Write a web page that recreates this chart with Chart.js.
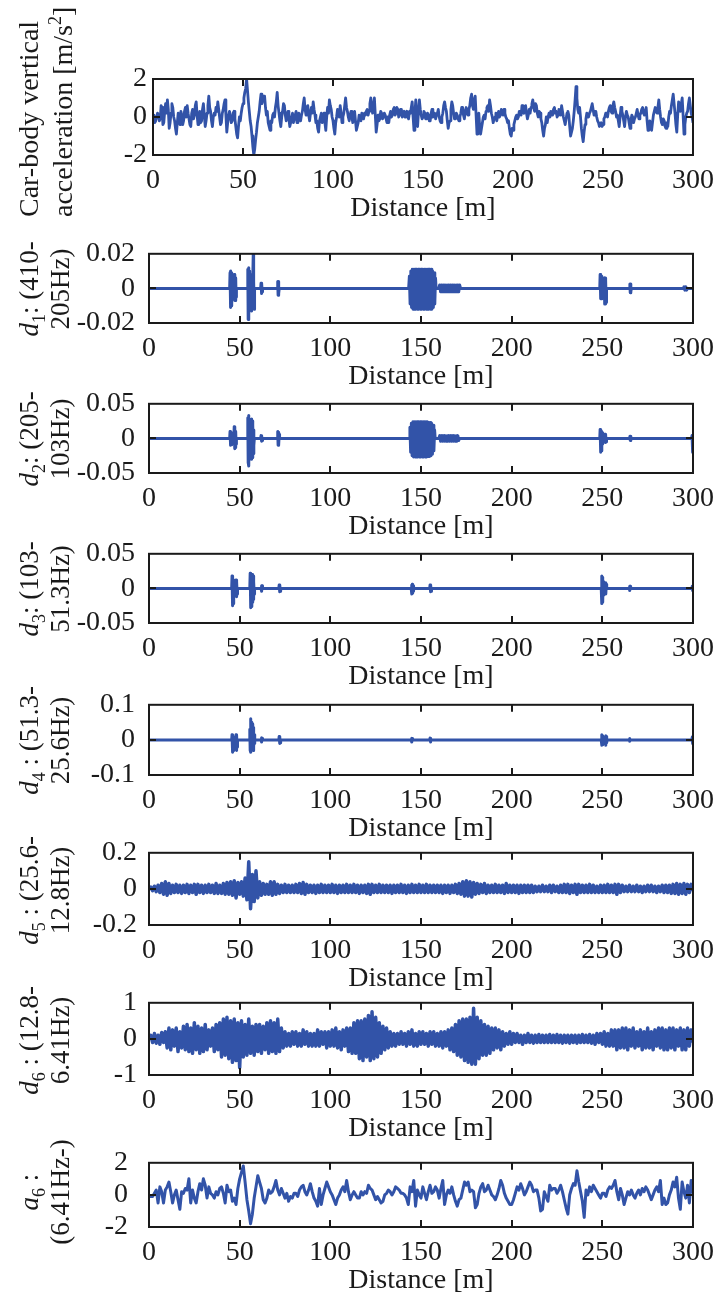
<!DOCTYPE html>
<html>
<head>
<meta charset="utf-8">
<script src="https://cdn.jsdelivr.net/npm/chart.js@4.4.1/dist/chart.umd.min.js"></script>
<style>
  body { margin: 0; background: #fff; width: 723px; height: 1292px; position: relative; overflow: hidden; }
  canvas { position: absolute; left: 0; }
</style>
</head>
<body>
<script>
// x axis
const distanceTicks = [0, 50, 100, 150, 200, 250, 300];
const accelStep = 0.5; // m between samples of the acceleration record
const bandStep = 1;    // m between samples of d5, d6, a6

// car-body vertical acceleration [m/s2], one value every 0.5 m (20 per row = 10 m)
const accel = [
  0.0,0.1,-0.3,-0.2,0.0,0.2,0.1,-0.2,-0.1,0.6,0.5,-0.4,-0.3,0.3,0.7,0.2,0.9,0.4,-0.6,-0.3,
  0.2,0.7,0.5,0.0,-0.2,-0.6,-0.9,-0.3,0.2,-0.1,-0.4,0.3,0.1,-0.4,-0.2,0.3,0.5,0.0,0.6,0.2,
  -0.1,-0.4,-0.5,0.2,0.4,-0.1,0.1,0.6,0.8,0.1,-0.4,0.0,0.3,-0.3,-0.2,0.4,0.7,0.1,-0.5,-0.2,
  0.2,0.6,1.1,0.5,0.3,-0.2,-0.5,0.0,0.2,0.1,0.5,0.3,0.8,0.4,0.0,-0.4,-0.3,0.2,0.4,0.7,
  0.9,0.1,-0.8,-0.3,0.1,0.3,0.0,-0.3,-0.2,0.2,0.3,-0.1,-0.5,-0.9,-1.1,-0.5,0.0,-0.2,0.2,0.5,
  0.7,1.0,1.3,1.5,2.0,1.4,0.8,0.3,-0.2,-0.5,-1.0,-1.6,-2.0,-1.7,-1.2,-0.8,-0.3,0.0,0.3,0.8,
  1.2,0.7,0.9,1.1,1.1,0.5,0.1,0.3,-0.3,-0.5,-0.7,-0.2,-0.3,0.1,0.2,0.0,0.5,0.8,1.3,0.6,
  0.2,-0.2,-0.5,0.0,0.3,0.7,0.6,0.1,-0.2,0.1,0.3,-0.1,-0.5,-0.3,0.0,0.2,-0.3,-0.1,0.1,0.3,
  -0.3,0.0,0.2,-0.1,-0.2,0.1,0.3,0.7,1.0,0.4,0.1,0.5,0.6,0.1,-0.2,0.2,0.5,0.2,0.8,0.4,
  0.1,-0.3,-0.2,-0.6,-0.8,-0.2,0.0,0.2,-0.3,-0.1,0.2,-0.3,-0.7,0.0,0.5,0.2,0.9,0.6,0.4,0.0,
  -0.2,-0.6,-0.9,-0.3,0.0,0.4,0.3,0.0,0.6,0.2,-0.3,0.0,0.2,0.6,1.0,0.5,0.3,0.0,-0.2,0.1,
  0.3,0.0,-0.3,0.1,0.3,-0.2,-0.7,-0.5,-0.3,0.1,0.0,-0.2,0.2,0.0,-0.1,0.2,0.1,0.3,0.4,0.1,
  0.3,0.7,1.0,0.5,0.2,0.6,1.0,0.1,-0.8,-0.4,0.1,-0.2,-0.1,0.3,0.2,-0.1,0.0,0.2,0.1,-0.1,
  -0.3,0.0,-0.3,0.1,0.3,0.0,0.1,0.4,0.5,0.1,0.2,0.5,0.4,0.0,0.1,0.4,0.4,0.0,0.2,0.3,
  0.0,0.2,0.3,0.0,-0.1,0.3,0.2,0.5,0.8,0.0,-0.7,0.2,0.9,0.1,-0.5,0.3,0.9,0.4,0.1,-0.1,
  0.0,0.3,0.2,-0.1,-0.1,0.2,0.1,-0.2,-0.2,0.2,0.4,0.0,0.1,0.2,-0.1,0.1,0.2,0.4,0.0,-0.2,
  -0.3,0.0,0.2,0.6,0.8,0.5,0.3,-0.2,-0.6,-0.3,-0.2,0.4,0.8,0.6,0.2,-0.1,-0.1,0.2,0.1,-0.1,
  -0.2,0.0,0.2,0.5,0.5,0.1,-0.1,0.3,0.5,0.2,0.1,0.4,0.6,1.0,1.2,0.6,0.4,0.9,1.1,0.1,
  -0.9,-0.4,0.2,-0.5,-0.9,-0.6,-0.3,0.0,0.1,-0.1,0.3,0.5,0.6,0.3,0.9,0.6,0.2,0.0,-0.3,-0.1,
  0.0,0.2,-0.2,0.1,0.3,0.0,0.1,0.4,0.3,0.1,0.4,0.2,0.0,-0.1,-0.3,-0.2,-0.6,-0.9,-1.0,-0.6,
  -0.7,-0.4,-0.2,0.0,0.1,-0.1,0.0,0.3,0.3,0.1,0.6,0.3,0.2,0.5,0.6,0.2,-0.1,0.1,0.4,0.2,
  0.5,0.7,0.9,0.5,0.3,0.7,0.6,0.2,0.0,0.3,0.2,-0.1,-0.3,-0.7,-1.0,-0.6,-0.4,0.0,-0.3,0.0,
  0.2,0.0,0.3,0.1,0.1,0.4,0.5,0.2,0.3,0.0,0.1,0.4,0.3,0.1,0.6,0.3,0.0,-0.2,-0.4,-0.1,
  0.2,0.3,0.1,-0.5,-1.0,-0.8,-0.6,-0.2,0.3,0.9,1.6,1.0,0.4,0.2,0.5,0.0,-0.6,-1.0,-1.3,-0.8,
  -0.4,-0.1,0.2,0.0,0.0,0.2,0.3,0.5,0.7,0.4,0.1,0.3,0.3,0.0,-0.2,-0.3,-0.5,-0.4,-0.3,-0.5,
  -0.4,-0.1,0.0,0.2,0.2,0.0,0.3,0.5,0.6,0.3,0.2,0.6,0.8,0.5,0.3,0.0,0.1,-0.2,-0.5,0.0,
  0.5,0.3,0.1,-0.2,-0.5,0.0,0.3,0.1,0.0,-0.3,-0.6,-0.2,0.1,0.0,-0.3,-0.1,0.0,0.2,0.4,0.1,
  -0.1,0.1,0.2,0.4,0.5,0.2,0.1,0.3,0.5,-0.2,-0.7,-0.4,-0.2,-0.5,-0.7,-0.3,0.1,0.3,0.5,0.3,
  0.2,0.5,0.9,0.4,0.0,-0.3,-0.4,-0.1,-0.2,-0.5,-0.6,-0.3,-0.5,0.0,0.3,0.2,0.6,0.9,1.2,0.7,
  0.2,-0.4,-0.8,0.1,0.8,0.6,0.3,0.7,1.0,0.1,-0.9,-0.4,0.0,0.2,0.3,0.7,1.0,0.6,0.2,0.0,
  -0.3
];

// detail d1 (410-205Hz) as [distance, value] pairs
const d1Pts = [
  [0,0],[44.5,0],
  [44.7,0.009],[44.9,-0.011],[45.1,0.010],[45.3,-0.010],[45.5,0.009],[45.7,-0.009],[45.9,0.007],[46.1,-0.004],[46.3,0],
  [46.8,0],[47.0,0.008],[47.2,-0.007],[47.4,0.008],[47.6,-0.007],[47.8,0.006],[48.0,-0.005],[48.2,0],
  [54.3,0],[54.5,0.011],[54.7,-0.018],[54.9,0.012],[55.1,-0.016],[55.3,0.010],[55.5,-0.012],[55.7,0.006],[55.9,-0.006],
  [56.1,0.006],[56.3,-0.010],[56.5,0.008],[56.7,-0.013],[56.9,0.006],[57.1,-0.012],[57.3,0.004],[57.5,0.020],[57.6,-0.008],
  [57.8,0.004],[58.0,-0.012],[58.2,0],
  [61.6,0],[61.8,0.003],[62.0,-0.003],[62.2,0.003],[62.4,-0.002],[62.6,0],
  [70.8,0],[71.0,0.004],[71.2,-0.004],[71.4,0.004],[71.6,-0.003],[71.8,0],
  [143.2,0],[143.6,0.007],[144.0,-0.009],[144.4,0.010],[144.8,-0.011],[145.2,0.011],[145.6,-0.012],[146.0,0.011],
  [146.4,-0.012],[146.8,0.011],[147.2,-0.012],[147.6,0.011],[148.0,-0.012],[148.4,0.011],[148.8,-0.012],[149.2,0.011],
  [149.6,-0.012],[150.0,0.011],[150.4,-0.012],[150.8,0.011],[151.2,-0.012],[151.6,0.011],[152.0,-0.012],[152.4,0.011],
  [152.8,-0.012],[153.2,0.011],[153.6,-0.012],[154.0,0.011],[154.4,-0.012],[154.8,0.011],[155.2,-0.012],[155.6,0.011],
  [156.0,-0.012],[156.4,0.010],[156.8,-0.011],[157.2,0.009],[157.6,-0.009],[158.0,0.006],[158.3,0],
  [159.8,0],[160.3,0.002],[160.8,-0.002],[161.3,0.002],[161.8,-0.002],[162.3,0.002],[162.8,-0.002],[163.3,0.002],
  [163.8,-0.002],[164.3,0.002],[164.8,-0.002],[165.3,0.002],[165.8,-0.002],[166.3,0.002],[166.8,-0.002],[167.3,0.002],
  [167.8,-0.002],[168.3,0.002],[168.8,-0.002],[169.3,0.002],[169.8,-0.002],[170.3,0.002],[170.8,-0.002],[171.3,0.002],[171.8,0],
  [248.6,0],[248.8,0.008],[249.0,-0.006],[249.2,0.008],[249.4,-0.006],[249.6,0.007],[249.8,-0.005],[250.0,0],
  [250.9,0],[251.1,0.006],[251.3,-0.009],[251.5,0.006],[251.7,-0.009],[251.9,0.005],[252.1,-0.008],[252.3,0],
  [265.0,0],[265.2,0.0025],[265.4,-0.0025],[265.6,0.0025],[265.8,-0.002],[266.0,0],
  [294.5,0],[295.0,0.001],[295.5,-0.001],[296.0,0.001],[296.5,-0.001],[297.0,0],[300,0]
];

// detail d2 (205-103Hz)
const d2Pts = [
  [0,0],[44.5,0],
  [44.7,0.010],[44.9,-0.010],[45.1,0.009],[45.3,-0.009],[45.5,0.008],[45.7,-0.007],[45.9,0.005],[46.1,0],
  [46.8,0],[47.0,0.017],[47.2,-0.015],[47.4,0.014],[47.6,-0.013],[47.8,0.010],[48.0,-0.008],[48.2,0],
  [54.3,0],[54.5,0.030],[54.7,-0.035],[54.9,0.033],[55.1,-0.040],[55.3,0.028],[55.5,-0.030],[55.7,0.015],[55.9,-0.012],
  [56.1,0.020],[56.3,-0.025],[56.5,0.028],[56.7,-0.030],[56.9,0.025],[57.1,-0.028],[57.3,0.020],[57.5,-0.022],
  [57.7,0.012],[57.9,-0.010],[58.1,0],
  [61.6,0],[61.8,0.004],[62.0,-0.004],[62.2,0.004],[62.4,-0.003],[62.6,0],
  [70.8,0],[71.0,0.010],[71.2,-0.010],[71.4,0.009],[71.6,-0.009],[71.8,0.006],[72.0,0],
  [143.5,0],[143.9,0.016],[144.3,-0.020],[144.7,0.022],[145.1,-0.025],[145.5,0.024],[145.9,-0.027],[146.3,0.024],
  [146.7,-0.027],[147.1,0.024],[147.5,-0.027],[147.9,0.024],[148.3,-0.027],[148.7,0.024],[149.1,-0.027],[149.5,0.024],
  [149.9,-0.027],[150.3,0.024],[150.7,-0.027],[151.1,0.024],[151.5,-0.027],[151.9,0.024],[152.3,-0.027],[152.7,0.024],
  [153.1,-0.027],[153.5,0.024],[153.9,-0.026],[154.3,0.023],[154.7,-0.026],[155.1,0.023],[155.5,-0.025],[155.9,0.022],
  [156.3,-0.023],[156.7,0.019],[157.1,-0.018],[157.5,0.012],[157.8,0],
  [159.8,0],[160.3,0.004],[160.8,-0.004],[161.3,0.004],[161.8,-0.004],[162.3,0.004],[162.8,-0.004],[163.3,0.004],
  [163.8,-0.004],[164.3,0.004],[164.8,-0.004],[165.3,0.004],[165.8,-0.004],[166.3,0.004],[166.8,-0.004],[167.3,0.004],
  [167.8,-0.004],[168.3,0.004],[168.8,-0.004],[169.3,0.004],[169.8,-0.004],[170.3,0.004],[170.8,-0.003],[171.2,0],
  [248.6,0],[248.8,0.013],[249.0,-0.020],[249.2,0.012],[249.4,-0.018],[249.6,0.010],[249.8,-0.012],[250.0,0.008],[250.2,-0.008],[250.4,0],
  [251.3,0],[251.5,0.006],[251.7,-0.006],[251.9,0.005],[252.1,-0.005],[252.3,0],
  [265.0,0],[265.2,0.003],[265.4,-0.003],[265.6,0.003],[265.8,0],
  [299.2,0],[299.5,0.004],[299.8,-0.020],[300,0]
];

// detail d3 (103-51.3Hz)
const d3Pts = [
  [0,0],[45.6,0],[45.8,0.018],[46.0,-0.025],[46.2,0.017],[46.4,-0.022],[46.6,0.012],[46.8,-0.012],[47.0,0],
  [47.8,0],[48.0,0.012],[48.2,-0.012],[48.4,0.010],[48.6,-0.008],[48.8,0],
  [55.6,0],[55.8,0.022],[56.0,-0.028],[56.2,0.020],[56.4,-0.026],[56.6,0.014],[56.8,-0.015],[57.0,0.020],[57.2,-0.020],
  [57.4,0.018],[57.6,-0.016],[57.8,0.010],[58.0,-0.008],[58.2,0],
  [61.8,0],[62.0,0.004],[62.2,-0.004],[62.4,0.004],[62.6,0],
  [71.6,0],[71.8,0.005],[72.0,-0.005],[72.2,0.005],[72.4,-0.004],[72.6,0],
  [144.6,0],[144.8,0.005],[145.0,-0.008],[145.2,0.006],[145.4,-0.007],[145.6,0.004],[145.8,-0.004],[146.0,0],
  [154.8,0],[155.0,0.005],[155.2,-0.005],[155.4,0.005],[155.6,-0.004],[155.8,0],
  [249.4,0],[249.6,0.018],[249.8,-0.022],[250.0,0.016],[250.2,-0.020],[250.4,0.010],[250.6,-0.010],[250.8,0],
  [251.6,0],[251.8,0.008],[252.0,-0.008],[252.2,0.006],[252.4,0],
  [264.8,0],[265.0,0.003],[265.2,-0.003],[265.4,0.003],[265.6,0],
  [299.4,0],[299.6,0.003],[299.8,-0.003],[300,0]
];

// detail d4 (51.3-25.6Hz)
const d4Pts = [
  [0,0],[45.6,0],[45.8,0.015],[46.0,-0.035],[46.2,0.014],[46.4,-0.030],[46.6,0.008],[46.8,-0.010],[47.0,0],
  [47.8,0],[48.0,0.015],[48.2,-0.030],[48.4,0.012],[48.6,-0.020],[48.8,0],
  [55.4,0],[55.6,0.030],[55.8,-0.030],[56.0,0.060],[56.2,-0.035],[56.4,0.050],[56.6,-0.030],[56.8,0.030],[57.0,-0.025],
  [57.2,0.045],[57.4,-0.030],[57.6,0.035],[57.8,-0.020],[58.0,0.015],[58.2,-0.010],[58.4,0],
  [61.8,0],[62.0,0.006],[62.2,-0.006],[62.4,0.005],[62.6,0],
  [71.6,0],[71.8,0.010],[72.0,-0.010],[72.2,0.008],[72.4,-0.008],[72.6,0],
  [144.6,0],[144.8,0.005],[145.0,-0.006],[145.2,0.004],[145.4,0],
  [154.8,0],[155.0,0.005],[155.2,-0.006],[155.4,0.004],[155.6,0],
  [249.4,0],[249.6,0.015],[249.8,-0.015],[250.0,0.012],[250.2,-0.014],[250.4,0.008],[250.6,0],
  [251.6,0],[251.8,0.012],[252.0,-0.015],[252.2,0.010],[252.4,-0.008],[252.6,0],
  [264.8,0],[265.0,0.004],[265.2,-0.004],[265.4,0],
  [299.4,0],[299.6,0.008],[299.8,-0.010],[300,0]
];

// detail d5 (25.6-12.8Hz), one value per metre
const d5 = [
  0.0,0.01,-0.01,0.015,-0.015,0.02,-0.02,0.03,-0.03,0.04,
  -0.035,0.03,-0.025,0.02,-0.02,0.025,-0.02,0.02,-0.025,0.02,
  -0.02,0.025,-0.025,0.02,-0.02,0.025,-0.03,0.025,-0.02,0.02,
  -0.025,0.02,-0.02,0.025,-0.02,0.02,-0.025,0.03,-0.025,0.02,
  -0.025,0.03,-0.03,0.035,-0.03,0.04,-0.035,0.045,-0.05,0.035,
  -0.03,0.04,-0.04,0.06,-0.06,0.15,-0.11,0.08,-0.07,0.1,
  -0.05,0.04,-0.035,0.03,-0.03,0.025,-0.03,0.04,-0.035,0.04,
  -0.03,0.025,-0.025,0.02,-0.02,0.025,-0.02,0.02,-0.02,0.02,
  -0.02,0.025,-0.02,0.03,-0.025,0.035,-0.03,0.025,-0.02,0.02,
  -0.02,0.02,-0.025,0.02,-0.02,0.025,-0.02,0.02,-0.02,0.02,
  -0.02,0.025,-0.02,0.02,-0.025,0.02,-0.02,0.02,-0.02,0.025,
  -0.02,0.02,-0.02,0.025,-0.02,0.02,-0.025,0.02,-0.02,0.02,
  -0.025,0.025,-0.03,0.025,-0.02,0.02,-0.02,0.025,-0.02,0.02,
  -0.02,0.02,-0.02,0.02,-0.025,0.02,-0.02,0.02,-0.02,0.025,
  -0.02,0.02,-0.025,0.02,-0.02,0.025,-0.02,0.02,-0.02,0.025,
  -0.02,0.02,-0.02,0.025,-0.02,0.02,-0.02,0.02,-0.02,0.02,
  -0.02,0.02,-0.025,0.02,-0.02,0.02,-0.025,0.02,-0.02,0.025,
  -0.025,0.03,-0.03,0.04,-0.04,0.045,-0.04,0.04,-0.045,0.035,
  -0.03,0.03,-0.025,0.025,-0.02,0.03,-0.025,0.02,-0.02,0.02,
  -0.02,0.025,-0.02,0.02,-0.02,0.02,-0.025,0.03,-0.02,0.02,
  -0.02,0.02,-0.02,0.02,-0.025,0.02,-0.02,0.02,-0.02,0.02,
  -0.02,0.02,-0.02,0.015,-0.015,0.015,-0.015,0.02,-0.015,0.015,
  -0.015,0.02,-0.02,0.02,-0.015,0.015,-0.02,0.02,-0.02,0.025,
  -0.02,0.025,-0.025,0.02,-0.02,0.025,-0.03,0.025,-0.02,0.02,
  -0.02,0.02,-0.02,0.025,-0.02,0.02,-0.02,0.015,-0.02,0.02,
  -0.02,0.02,-0.02,0.025,-0.02,0.02,-0.02,0.025,-0.03,0.025,
  -0.02,0.02,-0.015,0.015,-0.015,0.02,-0.015,0.015,-0.015,0.02,
  -0.015,0.015,-0.02,0.015,-0.015,0.02,-0.015,0.02,-0.015,0.015,
  -0.02,0.015,-0.015,0.02,-0.02,0.02,-0.02,0.02,-0.025,0.025,
  -0.025,0.03,-0.03,0.025,-0.025,0.03,-0.03,0.025,-0.02,0.025,-0.01
];

// detail d6 (12.8-6.41Hz), one value per metre
const d6 = [
  0.0,0.1,-0.1,0.15,-0.12,0.1,-0.15,0.18,-0.1,0.2,
  -0.25,0.3,-0.3,0.25,-0.2,0.3,-0.35,0.2,-0.25,0.35,
  -0.3,0.4,-0.35,0.3,-0.4,0.45,-0.3,0.35,-0.4,0.3,
  -0.35,0.4,-0.3,0.25,-0.2,0.3,-0.35,0.4,-0.3,0.45,
  -0.5,0.55,-0.45,0.6,-0.55,0.5,-0.65,0.55,-0.6,0.45,
  -0.8,0.5,-0.5,0.4,-0.45,0.55,-0.4,0.35,-0.45,0.4,
  -0.35,0.4,-0.4,0.35,-0.3,0.45,-0.4,0.5,-0.35,0.45,
  -0.4,0.55,-0.35,0.3,-0.25,0.2,-0.2,0.15,-0.2,0.2,
  -0.15,0.2,-0.2,0.15,-0.2,0.25,-0.15,0.2,-0.2,0.15,
  -0.2,0.15,-0.2,0.25,-0.2,0.2,-0.15,0.2,-0.25,0.2,
  -0.2,0.25,-0.2,0.3,-0.25,0.2,-0.3,0.25,-0.2,0.3,
  -0.35,0.3,-0.4,0.45,-0.4,0.5,-0.55,0.5,-0.6,0.55,
  -0.5,0.65,-0.6,0.75,-0.55,0.6,-0.5,0.45,-0.4,0.35,
  -0.3,0.3,-0.25,0.2,-0.2,0.15,-0.2,0.15,-0.15,0.2,
  -0.15,0.15,-0.2,0.2,-0.15,0.25,-0.2,0.15,-0.2,0.2,
  -0.15,0.2,-0.15,0.15,-0.2,0.2,-0.15,0.2,-0.2,0.15,
  -0.2,0.2,-0.25,0.2,-0.2,0.25,-0.3,0.3,-0.35,0.4,
  -0.45,0.5,-0.5,0.55,-0.6,0.55,-0.65,0.6,-0.7,0.85,
  -0.7,0.6,-0.55,0.5,-0.45,0.4,-0.45,0.35,-0.4,0.3,
  -0.3,0.3,-0.25,0.25,-0.3,0.2,-0.2,0.15,-0.15,0.2,
  -0.15,0.15,-0.1,0.15,-0.1,0.1,-0.15,0.1,-0.1,0.15,
  -0.1,0.1,-0.12,0.1,-0.1,0.12,-0.1,0.1,-0.1,0.1,
  -0.1,0.12,-0.1,0.1,-0.1,0.12,-0.1,0.1,-0.12,0.1,
  -0.1,0.1,-0.12,0.1,-0.1,0.1,-0.12,0.1,-0.1,0.12,
  -0.1,0.1,-0.1,0.12,-0.12,0.1,-0.15,0.15,-0.1,0.15,
  -0.15,0.2,-0.2,0.15,-0.2,0.25,-0.2,0.25,-0.3,0.25,
  -0.25,0.3,-0.25,0.3,-0.3,0.25,-0.2,0.3,-0.25,0.2,
  -0.2,0.25,-0.3,0.2,-0.25,0.3,-0.25,0.2,-0.3,0.25,
  -0.2,0.3,-0.25,0.3,-0.3,0.25,-0.3,0.3,-0.25,0.3,
  -0.3,0.25,-0.2,0.3,-0.3,0.25,-0.3,0.3,-0.2,0.25,-0.1
];

// approximation a6 (6.41Hz-), one value per metre
const a6 = [
  0.0,-0.1,-0.1,0.1,0.3,-0.5,0.5,0.2,-0.5,0.3,
  0.5,0.8,0.2,-0.5,0.0,0.3,-0.3,-0.9,0.2,0.1,
  0.4,0.3,1.0,-0.5,0.3,-0.2,-0.5,0.2,0.7,0.3,
  1.0,0.6,-0.2,0.5,0.1,0.0,-0.2,0.2,0.0,0.4,
  0.5,0.1,-0.5,0.6,0.2,0.3,-0.4,-0.2,-0.6,0.4,
  1.0,1.4,1.8,0.8,-0.3,-1.0,-1.8,-1.2,-0.2,0.5,
  1.2,0.8,0.4,-0.3,-0.5,-0.2,0.3,0.1,0.2,0.5,
  0.9,0.3,0.0,0.4,0.1,-0.2,0.1,-0.4,-0.1,-0.2,
  0.1,0.1,-0.1,0.3,0.5,0.6,0.2,0.0,0.3,0.7,
  0.2,-0.2,-0.4,-0.7,0.4,-0.6,0.0,0.4,0.8,0.5,
  0.2,0.0,-0.3,-0.6,-0.2,0.0,0.3,0.5,0.2,0.9,
  0.2,-0.3,0.0,0.2,0.0,-0.2,-0.2,0.2,0.0,0.2,
  0.1,0.6,0.4,0.3,0.0,-0.3,-0.1,-0.3,-0.5,-0.4,
  0.0,0.1,0.3,0.2,0.0,0.2,0.5,0.4,0.3,0.1,
  0.1,0.0,-0.2,-0.6,0.5,0.2,0.9,-0.7,0.3,0.0,
  -0.2,0.5,0.1,-0.3,0.2,0.6,0.1,0.2,0.5,0.3,
  -0.2,0.4,0.9,-0.6,0.0,0.3,0.1,0.5,0.0,-0.4,
  -0.7,-0.3,-0.2,0.3,0.8,0.6,0.8,0.2,0.3,0.2,
  -0.8,-0.6,0.1,0.5,0.7,0.2,0.3,0.6,0.3,0.0,
  -0.1,-0.3,0.0,0.4,0.9,0.6,0.1,-0.2,-0.4,-0.6,
  -0.6,-0.3,0.1,0.5,0.3,0.7,0.4,0.0,0.2,0.5,
  0.8,0.6,0.2,0.3,0.3,-0.2,-1.0,-0.9,0.2,-0.1,
  -0.4,0.6,0.3,0.4,0.4,0.1,0.3,0.6,0.2,-0.3,
  -0.8,-1.2,0.0,0.4,0.7,0.6,1.5,0.8,0.2,-0.4,
  -1.4,0.3,0.0,0.5,0.2,0.6,0.4,0.2,0.0,-0.2,
  0.1,0.1,-0.1,0.3,0.5,0.4,0.6,0.9,0.2,-0.3,
  0.4,0.0,-0.6,-0.2,0.2,0.0,0.3,0.0,-0.2,0.1,
  0.3,0.0,0.4,0.2,0.5,0.3,0.0,-0.3,0.0,0.3,
  0.5,0.2,0.9,-0.6,-0.2,-0.6,-0.5,0.0,0.3,0.8,
  0.5,1.1,-0.2,-0.9,0.8,0.2,-0.2,0.6,-0.5,0.9,0.1
];

// y tick values and their labels
const accelTicks = [-2, 0, 2];        const accelTickLabels = ['-2', '0', '2'];
const d1Ticks = [-0.02, 0, 0.02];     const d1TickLabels = ['-0.02', '0', '0.02'];
const d2Ticks = [-0.05, 0, 0.05];     const d2TickLabels = ['-0.05', '0', '0.05'];
const d3Ticks = [-0.05, 0, 0.05];     const d3TickLabels = ['-0.05', '0', '0.05'];
const d4Ticks = [-0.1, 0, 0.1];       const d4TickLabels = ['-0.1', '0', '0.1'];
const d5Ticks = [-0.2, 0, 0.2];       const d5TickLabels = ['-0.2', '0', '0.2'];
const d6Ticks = [-1, 0, 1];           const d6TickLabels = ['-1', '0', '1'];
const a6Ticks = [-2, 0, 2];           const a6TickLabels = ['-2', '0', '2'];

const FONT = '"Liberation Serif", "Times New Roman", serif';
const BLUE = '#3253a8';
const INK = '#1a1a1a';

function seriesPoints(vals, step) {
  return vals.map((v, i) => ({ x: i * step, y: v }));
}
function pairPoints(pairs) {
  return pairs.map(p => ({ x: p[0], y: p[1] }));
}

// y labels: each line is a list of text parts
const L = (t, o) => Object.assign({ t }, o || {});
const panels = [
  { pts: seriesPoints(accel, accelStep), ticks: accelTicks, labels: accelTickLabels, top: 79, bottom: 155, left: 153, right: 700, gap: 6, lw: 2.8,
    ylab: [[L('Car-body vertical')], [L('acceleration [m/s'), L('2', { sup: true }), L(']')]], labStart: 217, labSize: 28 },
  { pts: pairPoints(d1Pts), ticks: d1Ticks, labels: d1TickLabels, top: 247, bottom: 323, left: 149, right: 695, gap: 14, lw: 3,
    ylab: [[L('d', { it: true }), L('1', { sub: true }), L(': (410-')], [L('205Hz)')]] },
  { pts: pairPoints(d2Pts), ticks: d2Ticks, labels: d2TickLabels, top: 397, bottom: 473, left: 149, right: 695, gap: 14, lw: 3,
    ylab: [[L('d', { it: true }), L('2', { sub: true }), L(': (205-')], [L('103Hz)')]] },
  { pts: pairPoints(d3Pts), ticks: d3Ticks, labels: d3TickLabels, top: 547, bottom: 623, left: 149, right: 695, gap: 14, lw: 3,
    ylab: [[L('d', { it: true }), L('3', { sub: true }), L(': (103-')], [L('51.3Hz)')]] },
  { pts: pairPoints(d4Pts), ticks: d4Ticks, labels: d4TickLabels, top: 698, bottom: 775, left: 149, right: 695, gap: 14, lw: 3,
    ylab: [[L('d', { it: true }), L('4', { sub: true }), L(' : (51.3-')], [L('25.6Hz)')]] },
  { pts: seriesPoints(d5, bandStep), ticks: d5Ticks, labels: d5TickLabels, top: 848, bottom: 925, left: 149, right: 695, gap: 12, lw: 3.5,
    ylab: [[L('d', { it: true }), L('5', { sub: true }), L(' : (25.6-')], [L('12.8Hz)')]] },
  { pts: seriesPoints(d6, bandStep), ticks: d6Ticks, labels: d6TickLabels, top: 998, bottom: 1075, left: 149, right: 695, gap: 12, lw: 3.5,
    ylab: [[L('d', { it: true }), L('6', { sub: true }), L(' : (12.8-')], [L('6.41Hz)')]] },
  { pts: seriesPoints(a6, bandStep), ticks: a6Ticks, labels: a6TickLabels, top: 1149, bottom: 1227, left: 149, right: 695, gap: 21, lw: 3,
    ylab: [[L('a', { it: true }), L('6', { sub: true }), L(' :')], [L('(6.41Hz-)')]] }
];

// one rotated label line; centred on pos, or starting at pos when fromStart
function drawRotLine(ctx, parts, xBase, pos, size, fromStart) {
  const fontFor = p => (p.it ? 'italic ' : '') + Math.round(p.sub || p.sup ? size * 0.66 : size) + 'px ' + FONT;
  let total = 0;
  parts.forEach(p => { ctx.font = fontFor(p); total += ctx.measureText(p.t).width; });
  ctx.save();
  ctx.translate(xBase, pos);
  ctx.rotate(-Math.PI / 2);
  ctx.textAlign = 'left';
  ctx.textBaseline = 'alphabetic';
  ctx.fillStyle = INK;
  let x = fromStart ? 0 : -total / 2;
  parts.forEach(p => {
    ctx.font = fontFor(p);
    const dy = p.sub ? size * 0.25 : (p.sup ? -size * 0.38 : 0);
    ctx.fillText(p.t, x, dy);
    x += ctx.measureText(p.t).width;
  });
  ctx.restore();
}

const framePlugin = {
  id: 'frame',
  afterDraw(chart, args, opts) {
    const { ctx, chartArea: a } = chart;
    const xs = chart.scales.x, ys = chart.scales.y;
    ctx.save();
    ctx.strokeStyle = INK;
    ctx.lineWidth = 2;
    ctx.beginPath();
    xs.ticks.forEach(t => {
      const px = Math.round(xs.getPixelForValue(t.value));
      if (px <= a.left + 2 || px >= a.right - 2) return;
      ctx.moveTo(px, a.bottom); ctx.lineTo(px, a.bottom - 7);
      ctx.moveTo(px, a.top); ctx.lineTo(px, a.top + 7);
    });
    ys.ticks.forEach(t => {
      const py = Math.round(ys.getPixelForValue(t.value));
      if (py <= a.top + 2 || py >= a.bottom - 2) return;
      ctx.moveTo(a.left, py); ctx.lineTo(a.left + 7, py);
      ctx.moveTo(a.right, py); ctx.lineTo(a.right - 7, py);
    });
    ctx.stroke();
    ctx.strokeRect(a.left, a.top, a.right - a.left, a.bottom - a.top);
    ctx.restore();
    drawRotLine(ctx, opts.ylab[0], 38, opts.labPos, opts.labSize, opts.fromStart);
    drawRotLine(ctx, opts.ylab[1], opts.line2X, opts.labPos, opts.labSize, opts.fromStart);
  }
};

panels.forEach((p, i) => {
  const padTop = i === 0 ? p.top : 24;
  const boxH = p.bottom - p.top;
  const axisH = 70;
  const cv = document.createElement('canvas');
  cv.width = 723;
  cv.height = padTop + boxH + axisH;
  cv.style.top = (p.top - padTop) + 'px';
  document.body.appendChild(cv);

  new Chart(cv, {
    type: 'line',
    data: {
      datasets: [{
        data: p.pts,
        borderColor: BLUE,
        borderWidth: p.lw,
        borderJoinStyle: 'round',
        pointRadius: 0,
        tension: 0,
        fill: false
      }]
    },
    options: {
      responsive: false,
      animation: false,
      devicePixelRatio: 1,
      parsing: false,
      layout: { padding: { top: padTop, right: 723 - p.right, left: 0, bottom: 0 } },
      plugins: {
        legend: { display: false },
        tooltip: { enabled: false },
        frame: {
          ylab: p.ylab,
          fromStart: !!p.labStart,
          labPos: p.labStart ? p.labStart - (p.top - padTop) : padTop + boxH / 2 + 4,
          labSize: p.labSize || 27,
          line2X: i === 0 ? 72 : 69
        }
      },
      scales: {
        x: {
          type: 'linear',
          min: 0, max: 300,
          afterBuildTicks: s => { s.ticks = distanceTicks.map(v => ({ value: v })); },
          afterFit: s => { s.height = axisH; },
          grid: { display: false, drawTicks: false, tickLength: 0 },
          border: { display: false },
          ticks: {
            font: { family: FONT, size: 28 }, color: INK, padding: 9,
            maxRotation: 0, autoSkip: false,
            callback: v => String(v)
          },
          title: {
            display: true, text: 'Distance [m]',
            font: { family: FONT, size: 28 }, color: INK,
            padding: { top: 0, bottom: 0 }
          }
        },
        y: {
          type: 'linear',
          min: p.ticks[0], max: p.ticks[p.ticks.length - 1],
          afterBuildTicks: s => { s.ticks = p.ticks.map(v => ({ value: v })); },
          afterFit: s => { s.width = p.left; },
          grid: { display: false, drawTicks: false, tickLength: 0 },
          border: { display: false },
          ticks: {
            font: { family: FONT, size: 28 }, color: INK, padding: p.gap,
            autoSkip: false,
            callback: (v, idx) => p.labels[idx]
          }
        }
      }
    },
    plugins: [framePlugin]
  });
});
</script>
</body>
</html>
